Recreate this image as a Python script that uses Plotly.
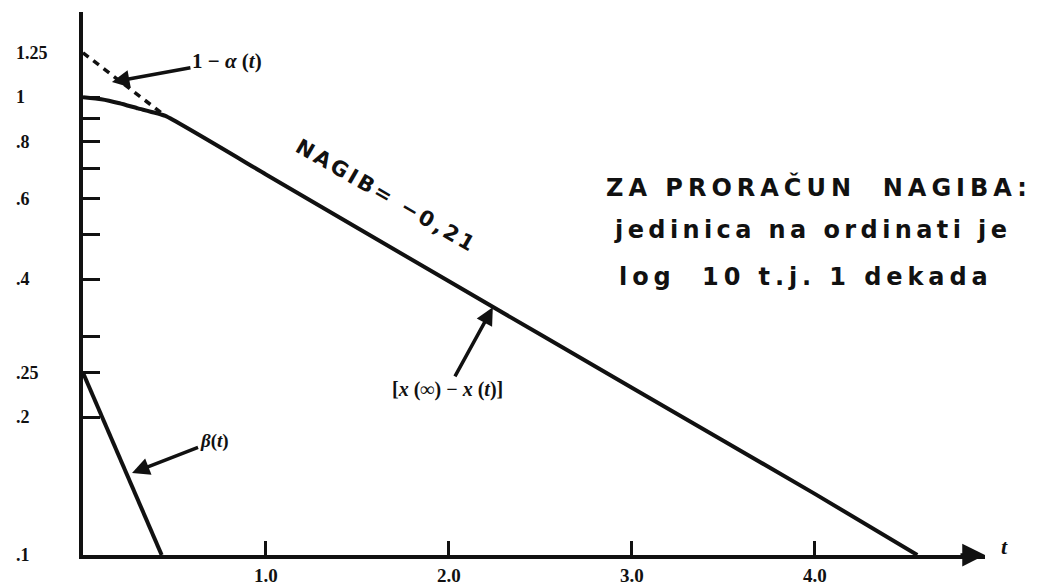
import math
import plotly.graph_objects as go

# [x(inf) - x(t)] : recovery curve on a logarithmic ordinate
t_main = [0.0, 0.1, 0.2, 0.3, 0.45, 1.0, 2.0, 3.0, 4.0, 4.56]
v_main = [1.0, 0.99, 0.97, 0.945, 0.91, 0.678, 0.396, 0.232, 0.136, 0.1]

# 1 - alpha(t) : straight-line extrapolation back to t = 0
t_alpha = [0.0, 0.45]
v_alpha = [1.25, 0.91]

# beta(t) : fast component
t_beta = [0.0, 0.43]
v_beta = [0.25, 0.1]

x_tick_vals = [1, 2, 3, 4]
x_tick_text = ["1.0", "2.0", "3.0", "4.0"]
y_label_vals = [1.25, 1.0, 0.8, 0.6, 0.4, 0.25, 0.2, 0.1]
y_label_text = ["1.25", "1", ".8", ".6", ".4", ".25", ".2", ".1"]
y_tick_vals = [0.2, 0.25, 0.3, 0.4, 0.5, 0.6, 0.7, 0.8, 0.9, 1.0]

slope_text = "NAGIB= −0,21"
note_lines = ["ZA PRORAČUN  NAGIBA:", "jedinica na ordinati je", "log  10 t.j. 1 dekada"]

INK = "#111111"
SERIF = "Liberation Serif"
SANS = "DejaVu Sans"

fig = go.Figure()

fig.add_trace(go.Scatter(x=t_main, y=v_main, mode="lines",
                         line=dict(color=INK, width=4, shape="spline", smoothing=0.4),
                         showlegend=False, hoverinfo="skip"))
fig.add_trace(go.Scatter(x=t_alpha, y=v_alpha, mode="lines",
                         line=dict(color=INK, width=3.5, dash="7px,6px"),
                         showlegend=False, hoverinfo="skip"))
fig.add_trace(go.Scatter(x=t_beta, y=v_beta, mode="lines",
                         line=dict(color=INK, width=4),
                         showlegend=False, hoverinfo="skip"))

annotations = []

# ordinate labels, left aligned beside the axis
for val, txt in zip(y_label_vals, y_label_text):
    annotations.append(dict(xref="paper", x=0, xanchor="left", xshift=-69,
                            yref="y", y=math.log10(val), yanchor="middle",
                            text=f"<b>{txt}</b>", showarrow=False,
                            font=dict(family=SERIF, size=18, color=INK)))

# arrowhead on the t axis and its label
annotations.append(dict(xref="paper", yref="paper", x=1, y=0, text="",
                        showarrow=True, ax=-26, ay=0, arrowhead=2,
                        arrowsize=1.3, arrowwidth=3.5, arrowcolor=INK))
annotations.append(dict(xref="paper", yref="paper", x=1, y=0, xshift=25, yshift=-6,
                        text="<b><i>t</i></b>", showarrow=False,
                        font=dict(family=SERIF, size=22, color=INK)))

# slope label written along the straight part of the curve
annotations.append(dict(x=1.66, y=-0.215,
                        text=f"<b><span style='letter-spacing:3px'>{slope_text}</span></b>",
                        textangle=30, showarrow=False,
                        font=dict(family=SANS, size=21, color=INK)))

# curve labels with pointer arrows
annotations.append(dict(x=0.158, y=0.033, ax=115, ay=-21,
                        text="<b>1 − <i>α</i> (<i>t</i>)</b>", showarrow=True,
                        arrowhead=2, arrowsize=1, arrowwidth=3.5, arrowcolor=INK,
                        font=dict(family=SERIF, size=21, color=INK)))
annotations.append(dict(x=0.268, y=-0.821, ax=82, ay=-32,
                        text="<b><i>β</i>(<i>t</i>)</b>", showarrow=True,
                        arrowhead=2, arrowsize=1, arrowwidth=3.5, arrowcolor=INK,
                        font=dict(family=SERIF, size=19, color=INK)))
annotations.append(dict(x=2.24, y=-0.459, ax=-45, ay=82,
                        text="<b>[<i>x</i> (∞) − <i>x</i> (<i>t</i>)]</b>", showarrow=True,
                        arrowhead=2, arrowsize=1, arrowwidth=3.5, arrowcolor=INK,
                        font=dict(family=SERIF, size=20, color=INK)))

# note on how to read the slope
note_pos = [(2.85, -0.197, 5.0), (2.89, -0.290, 4.4), (2.92, -0.393, 4.9)]
for (nx, ny, sp), line in zip(note_pos, note_lines):
    annotations.append(dict(x=nx, y=ny, xanchor="left", yanchor="middle",
                            text=f"<b><span style='letter-spacing:{sp}px'>{line}</span></b>",
                            showarrow=False,
                            font=dict(family=SANS, size=24, color=INK)))

fig.update_layout(
    width=1041, height=588,
    margin=dict(l=83, r=56, t=12, b=33),
    paper_bgcolor="white", plot_bgcolor="white",
    showlegend=False,
    xaxis=dict(range=[0, 4.93], showgrid=False, zeroline=False, automargin=False,
               showline=True, linewidth=4, linecolor=INK,
               ticks="inside", ticklen=14, tickwidth=2.5, tickcolor=INK,
               tickvals=x_tick_vals, ticktext=[f"<b>{s}</b>" for s in x_tick_text],
               ticklabelstandoff=0,
               tickfont=dict(family=SERIF, size=19, color=INK)),
    yaxis=dict(type="log", range=[-1, 0.186], showgrid=False, zeroline=False,
               automargin=False,
               showline=True, linewidth=4, linecolor=INK,
               ticks="inside", ticklen=17, tickwidth=2.5, tickcolor=INK,
               tickvals=y_tick_vals, showticklabels=False),
    annotations=annotations,
)

fig.write_html("out.html")
